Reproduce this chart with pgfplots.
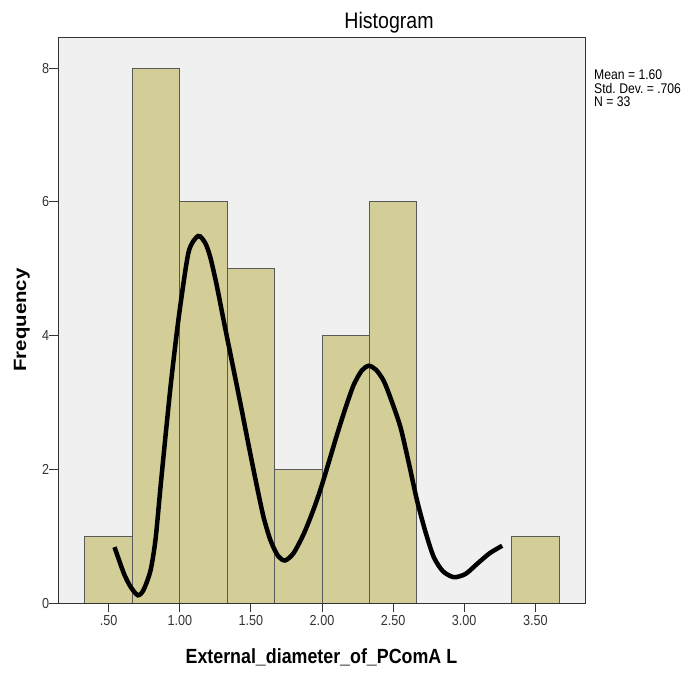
\documentclass[border=0pt]{standalone}
\usepackage{fontspec}
\setmainfont{Liberation Sans}[FakeStretch=0.87]
\usepackage{pgfplots}
\pgfplotsset{compat=1.18}
\definecolor{bg}{HTML}{F0F0F0}
\definecolor{barfill}{HTML}{D3CE98}
\begin{document}
\begin{tikzpicture}[x=1pt,y=1pt]
\useasboundingbox (0,0) rectangle (695,673);
\begin{axis}[at={(58.3pt,69.7pt)}, anchor=south west, scale only axis,
  width=527.5pt, height=566pt,
  xmin=0.1456, xmax=3.855, ymin=0, ymax=8.46,
  axis background/.style={fill=bg},
  axis on top,
  axis line style={draw=black!80, line width=1.2pt},
  tick align=outside, major tick length=9pt,
  tick style={draw=black!80, line width=1pt},
  xtick={0.5,1,1.5,2,2.5,3,3.5},
  xticklabels={.50,1.00,1.50,2.00,2.50,3.00,3.50},
  ytick={0,2,4,6,8}, yticklabels={0,2,4,6,8},
  tick pos=left,
  minor tick num=0,
  ticklabel style={font=\fontsize{14.5}{16}\selectfont, text=black!80},
  yticklabel style={xshift=3.5pt},
]
\addplot[ybar interval, fill=barfill, draw=black!65, line width=1pt] coordinates {
(0.3333,1) (0.6667,8) (1.0,6) (1.3333,5) (1.6667,2) (2.0,4) (2.3333,6) (2.6667,0) (3.0,0) (3.3333,1) (3.6667,1)};
\addplot[smooth, tension=0.45, black, line width=4.5pt] coordinates {
(0.541,0.84) (0.606,0.45) (0.653,0.25) (0.705,0.12) (0.745,0.2) (0.794,0.49) (0.829,0.95) (0.864,1.73) (0.899,2.49) (0.934,3.22) (0.97,3.89) (1.005,4.47) (1.063,5.26) (1.129,5.49) (1.18,5.38) (1.216,5.16) (1.26,4.75) (1.309,4.22) (1.368,3.60) (1.427,2.98) (1.486,2.34) (1.544,1.73) (1.59,1.28) (1.638,0.94) (1.69,0.71) (1.740,0.64) (1.80,0.75) (1.872,1.04) (1.94,1.40) (2.001,1.78) (2.107,2.53) (2.17,2.95) (2.224,3.27) (2.28,3.48) (2.329,3.55) (2.38,3.49) (2.435,3.32) (2.49,3.02) (2.552,2.63) (2.61,2.10) (2.669,1.53) (2.73,1.05) (2.786,0.69) (2.85,0.48) (2.927,0.39) (3.01,0.44) (3.091,0.59) (3.18,0.75) (3.267,0.86)};
\end{axis}
\node[anchor=base, font=\fontsize{22.5}{26}\selectfont] at (389,644.7) {Histogram};
\node[anchor=base, font=\fontsize{20.5}{24}\selectfont\bfseries] at (321.4,9.8) {External\_diameter\_of\_PComA L};
\node[anchor=base, rotate=90] at (26,353) {\scalebox{1}[0.87]{\fontspec{Liberation Sans}\fontsize{20.4}{24}\selectfont\bfseries Frequency}};
\node[anchor=base west, inner sep=0pt, font=\fontsize{14}{16}\selectfont] at (594,593) {Mean = 1.60};
\node[anchor=base west, inner sep=0pt, font=\fontsize{14}{16}\selectfont] at (594,579.7) {Std.\ Dev.\ = .706};
\node[anchor=base west, inner sep=0pt, font=\fontsize{14}{16}\selectfont] at (594,566.4) {N = 33};
\end{tikzpicture}
\end{document}
